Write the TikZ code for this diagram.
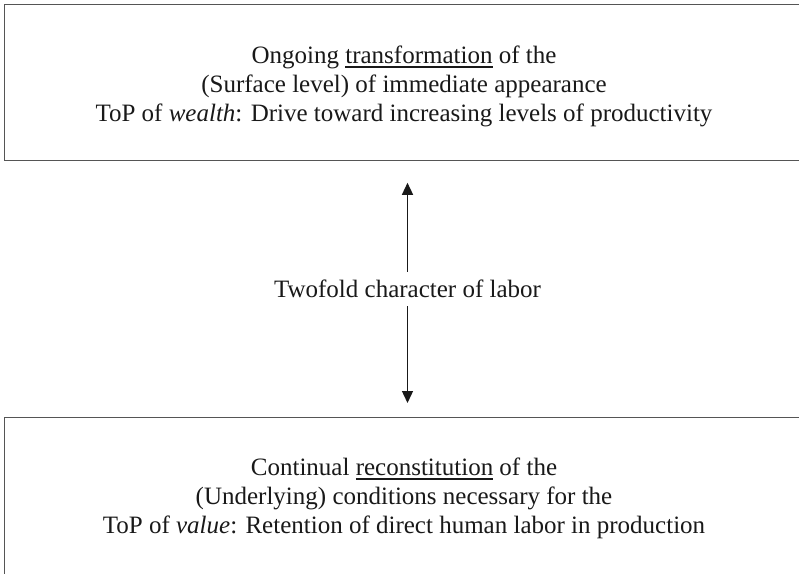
\documentclass[tikz,border=0pt]{standalone}
\usepackage{fontspec}
\setmainfont{Liberation Serif}
\usetikzlibrary{arrows.meta}
\definecolor{boxgray}{RGB}{85,85,85}
\definecolor{inkc}{RGB}{25,25,25}
\newcommand\myul[1]{\setbox0\hbox{#1}\rlap{\rule[-4.5pt]{\wd0}{1.4pt}}\box0\relax}
\begin{document}
\begin{tikzpicture}[x=1pt,y=1pt,
  frame/.style={draw=boxgray, line width=1.3pt, rectangle, inner sep=0pt},
  txt/.style={font=\fontsize{25}{29}\selectfont, text=inkc, inner sep=0pt, anchor=base},
  arr/.style={draw=inkc, line width=1.4pt, -{Triangle[length=12pt,width=11pt]}}]
\useasboundingbox (0,0) rectangle (799,-573);
\clip (0,0) rectangle (799,-573);
\fill[white] (0,0) rectangle (799,-573);
\node[frame, anchor=north west, minimum width=830pt, minimum height=156pt] (top) at (4,-4) {};
\node[frame, anchor=north west, minimum width=830pt, minimum height=175pt] (bot) at (4,-417) {};
\node[txt] (t1) at (404,-63) {Ongoing \myul{transformation} of the};
\node[txt] (t2) at (404,-92) {(Surface level) of immediate appearance};
\node[txt] (t3) at (404,-121) {ToP of \textit{wealth}: Drive toward increasing levels of productivity};
\node[txt] (b1) at (404,-475) {Continual \myul{reconstitution} of the};
\node[txt] (b2) at (404,-504) {(Underlying) conditions necessary for the};
\node[txt] (b3) at (404,-533) {ToP of \textit{value}: Retention of direct human labor in production};
\node[txt, text height=25pt, text depth=9pt] (mid) at (407.5,-297) {Twofold character of labor};
\draw[arr, shorten >=21.5pt] (mid.north) -- (mid.north |- top.south);
\draw[arr, shorten >=14pt] (mid.south) -- (mid.south |- bot.north);
\end{tikzpicture}
\end{document}
